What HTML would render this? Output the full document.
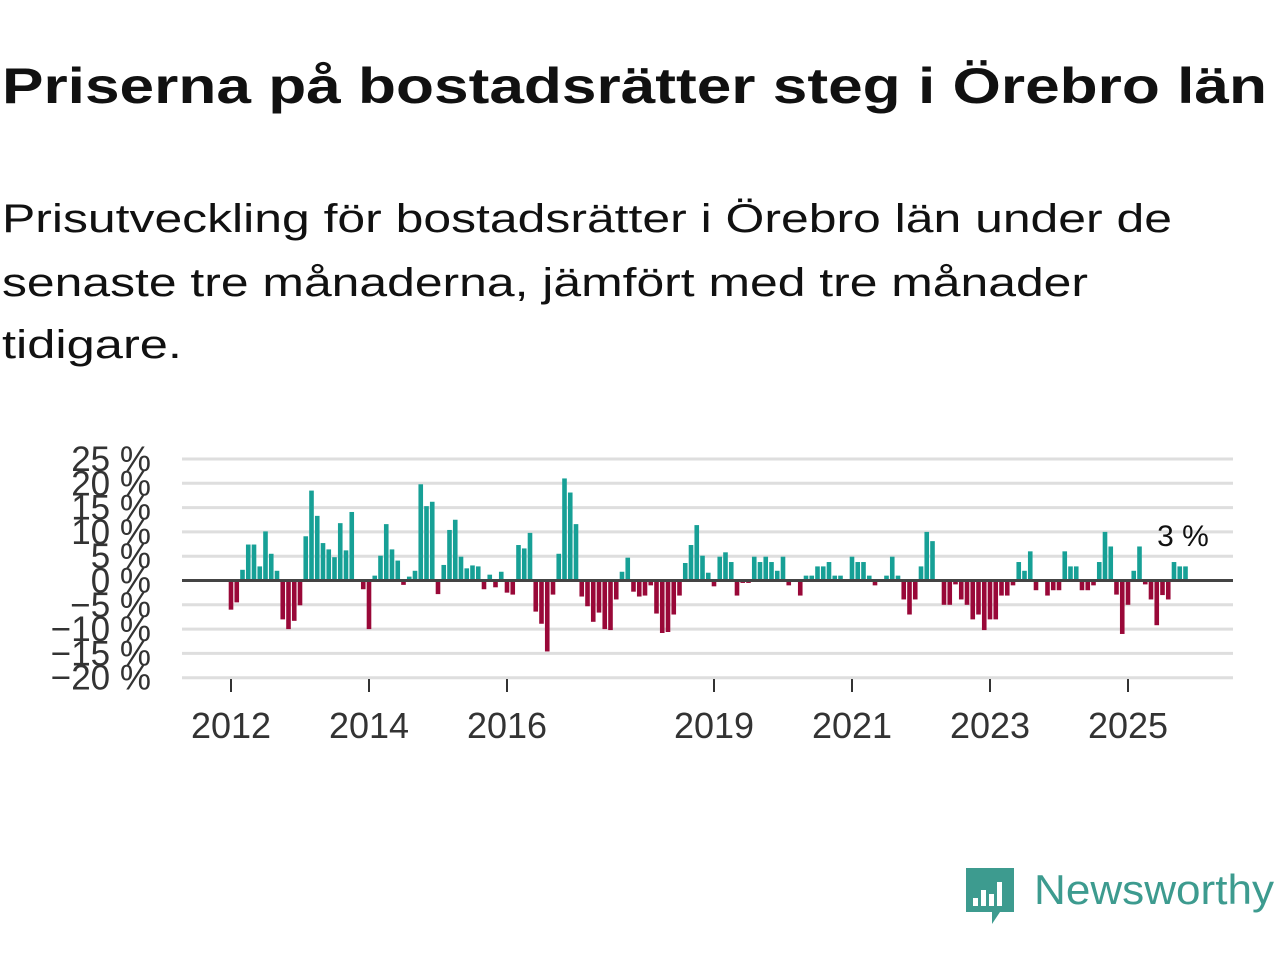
<!DOCTYPE html>
<html><head><meta charset="utf-8">
<style>
html,body{margin:0;padding:0;background:#fff;width:1280px;height:960px;overflow:hidden;font-family:"Liberation Sans",sans-serif;}
</style></head>
<body>
<svg id="chart" width="1280" height="960" xmlns="http://www.w3.org/2000/svg">
  <text x="2" y="103" font-family="Liberation Sans, sans-serif" font-weight="bold" font-size="50" fill="#111" textLength="1265" lengthAdjust="spacingAndGlyphs">Priserna på bostadsrätter steg i Örebro län</text>
  <g font-family="Liberation Sans, sans-serif" font-size="40" fill="#111">
    <text x="2" y="232" textLength="1170" lengthAdjust="spacingAndGlyphs">Prisutveckling för bostadsrätter i Örebro län under de</text>
    <text x="2" y="296" textLength="1086" lengthAdjust="spacingAndGlyphs">senaste tre månaderna, jämfört med tre månader</text>
    <text x="2" y="358" textLength="180" lengthAdjust="spacingAndGlyphs">tidigare.</text>
  </g>
  <g id="grid"></g>
  <g id="yaxis"></g>
  <g id="bars"></g>
  <line x1="182" x2="1233" y1="580.5" y2="580.5" stroke="#444" stroke-width="3"/>
  <g id="xaxis"></g>
  <text id="lastlabel" x="1183" y="546" font-family="Liberation Sans, sans-serif" font-size="30" fill="#111" text-anchor="middle">3 %</text>
  <g>
    <path d="M966 868 h48 v44 h-14 l-8 12 v-12 h-26 z" fill="#3d9b8f"/>
    <rect x="973" y="898" width="5" height="8" fill="#fff"/>
    <rect x="981" y="890" width="5" height="16" fill="#fff"/>
    <rect x="989" y="894" width="5" height="12" fill="#fff"/>
    <rect x="997" y="882" width="5" height="24" fill="#fff"/>
    <text x="1034" y="904" font-family="Liberation Sans, sans-serif" font-size="42" fill="#3d9b8f" textLength="240" lengthAdjust="spacingAndGlyphs">Newsworthy</text>
  </g>
</svg>
<script>
const values = [-6,-4.5,2.2,7.4,7.4,2.9,10.1,5.5,2,-8,-10,-8.3,-5.1,9.1,18.5,13.3,7.7,6.4,4.8,11.8,6.2,14.1,0,-1.8,-10,1,5.1,11.6,6.4,4.1,-0.9,0.8,2,19.8,15.3,16.2,-2.8,3.2,10.4,12.5,4.9,2.5,3.1,2.9,-1.8,1.2,-1.4,1.8,-2.5,-2.9,7.3,6.6,9.8,-6.4,-8.9,-14.6,-2.9,5.5,21,18.1,11.6,-3.3,-5.3,-8.5,-6.6,-10,-10.2,-3.9,1.8,4.7,-2.3,-3.3,-3.1,-1,-6.8,-10.8,-10.6,-7,-3.1,3.6,7.3,11.4,5.1,1.6,-1.2,4.9,5.8,3.8,-3.1,-0.5,-0.5,4.9,3.8,4.9,3.8,2,4.9,-1,0,-3.1,1,1,2.9,2.9,3.8,1,1,0,4.9,3.8,3.8,1,-1,0,1,4.9,1,-3.9,-7,-3.9,2.9,10,8.1,0,-5,-5,-0.8,-3.9,-5,-8,-7,-10.2,-8,-8,-3.1,-3.1,-1,3.8,2,6,-2,0,-3.1,-2,-2,6,2.9,2.9,-2,-2,-1,3.8,10,7,-2.9,-11,-5,2,7,-0.8,-3.9,-9.2,-3,-3.9,3.8,2.9,2.9];
const yTicks = [25,20,15,10,5,0,-5,-10,-15,-20];
const yTickLabels = ["25 %","20 %","15 %","10 %","5 %","0 %","−5 %","−10 %","−15 %","−20 %"];
const xTickYears = [2012,2014,2016,2019,2021,2023,2025];
const startYear = 2012;

const NS="http://www.w3.org/2000/svg";
const y0=580.5, pxPer=4.86;
function yScale(v){return y0 - v*pxPer;}
function xScale(i){return 231 + i*5.75;}
function mk(tag,attrs,parent){const e=document.createElementNS(NS,tag);for(const k in attrs)e.setAttribute(k,attrs[k]);parent.appendChild(e);return e;}

const grid=document.getElementById('grid'), yaxis=document.getElementById('yaxis');
yTicks.forEach((t,k)=>{
  if(t!==0){
    const l=mk('line',{x1:182,x2:1233,y1:yScale(t),y2:yScale(t),stroke:'#dedede','stroke-width':3},grid);
    
    
  }
  const tx=mk('text',{x:151,y:yScale(t)+12,'text-anchor':'end','font-size':35,fill:'#333','font-family':'Liberation Sans, sans-serif'},yaxis);
  tx.textContent=yTickLabels[k];
  
  
});
const bars=document.getElementById('bars');
values.forEach((v,i)=>{
  const y=v>=0?yScale(v):y0, h=Math.abs(v)*pxPer;
  const r=mk('rect',{x:xScale(i)-2.3,y:y,width:4.6,height:h,fill:v>=0?'#17a096':'#990838'},bars);
  
  
});
const xaxis=document.getElementById('xaxis');
xTickYears.forEach(yr=>{
  const x=xScale((yr-startYear)*12);
  const t=mk('line',{x1:x,x2:x,y1:679,y2:692,stroke:'#333','stroke-width':2},xaxis);
  
  
  const tx=mk('text',{x:x,y:738,'text-anchor':'middle','font-size':36,fill:'#333','font-family':'Liberation Sans, sans-serif'},xaxis);
  tx.textContent=String(yr);
  
  
});
const last=values[values.length-1];
const lbl=document.getElementById('lastlabel');
lbl.textContent=Math.round(last)+' %';
</script>
</body></html>
